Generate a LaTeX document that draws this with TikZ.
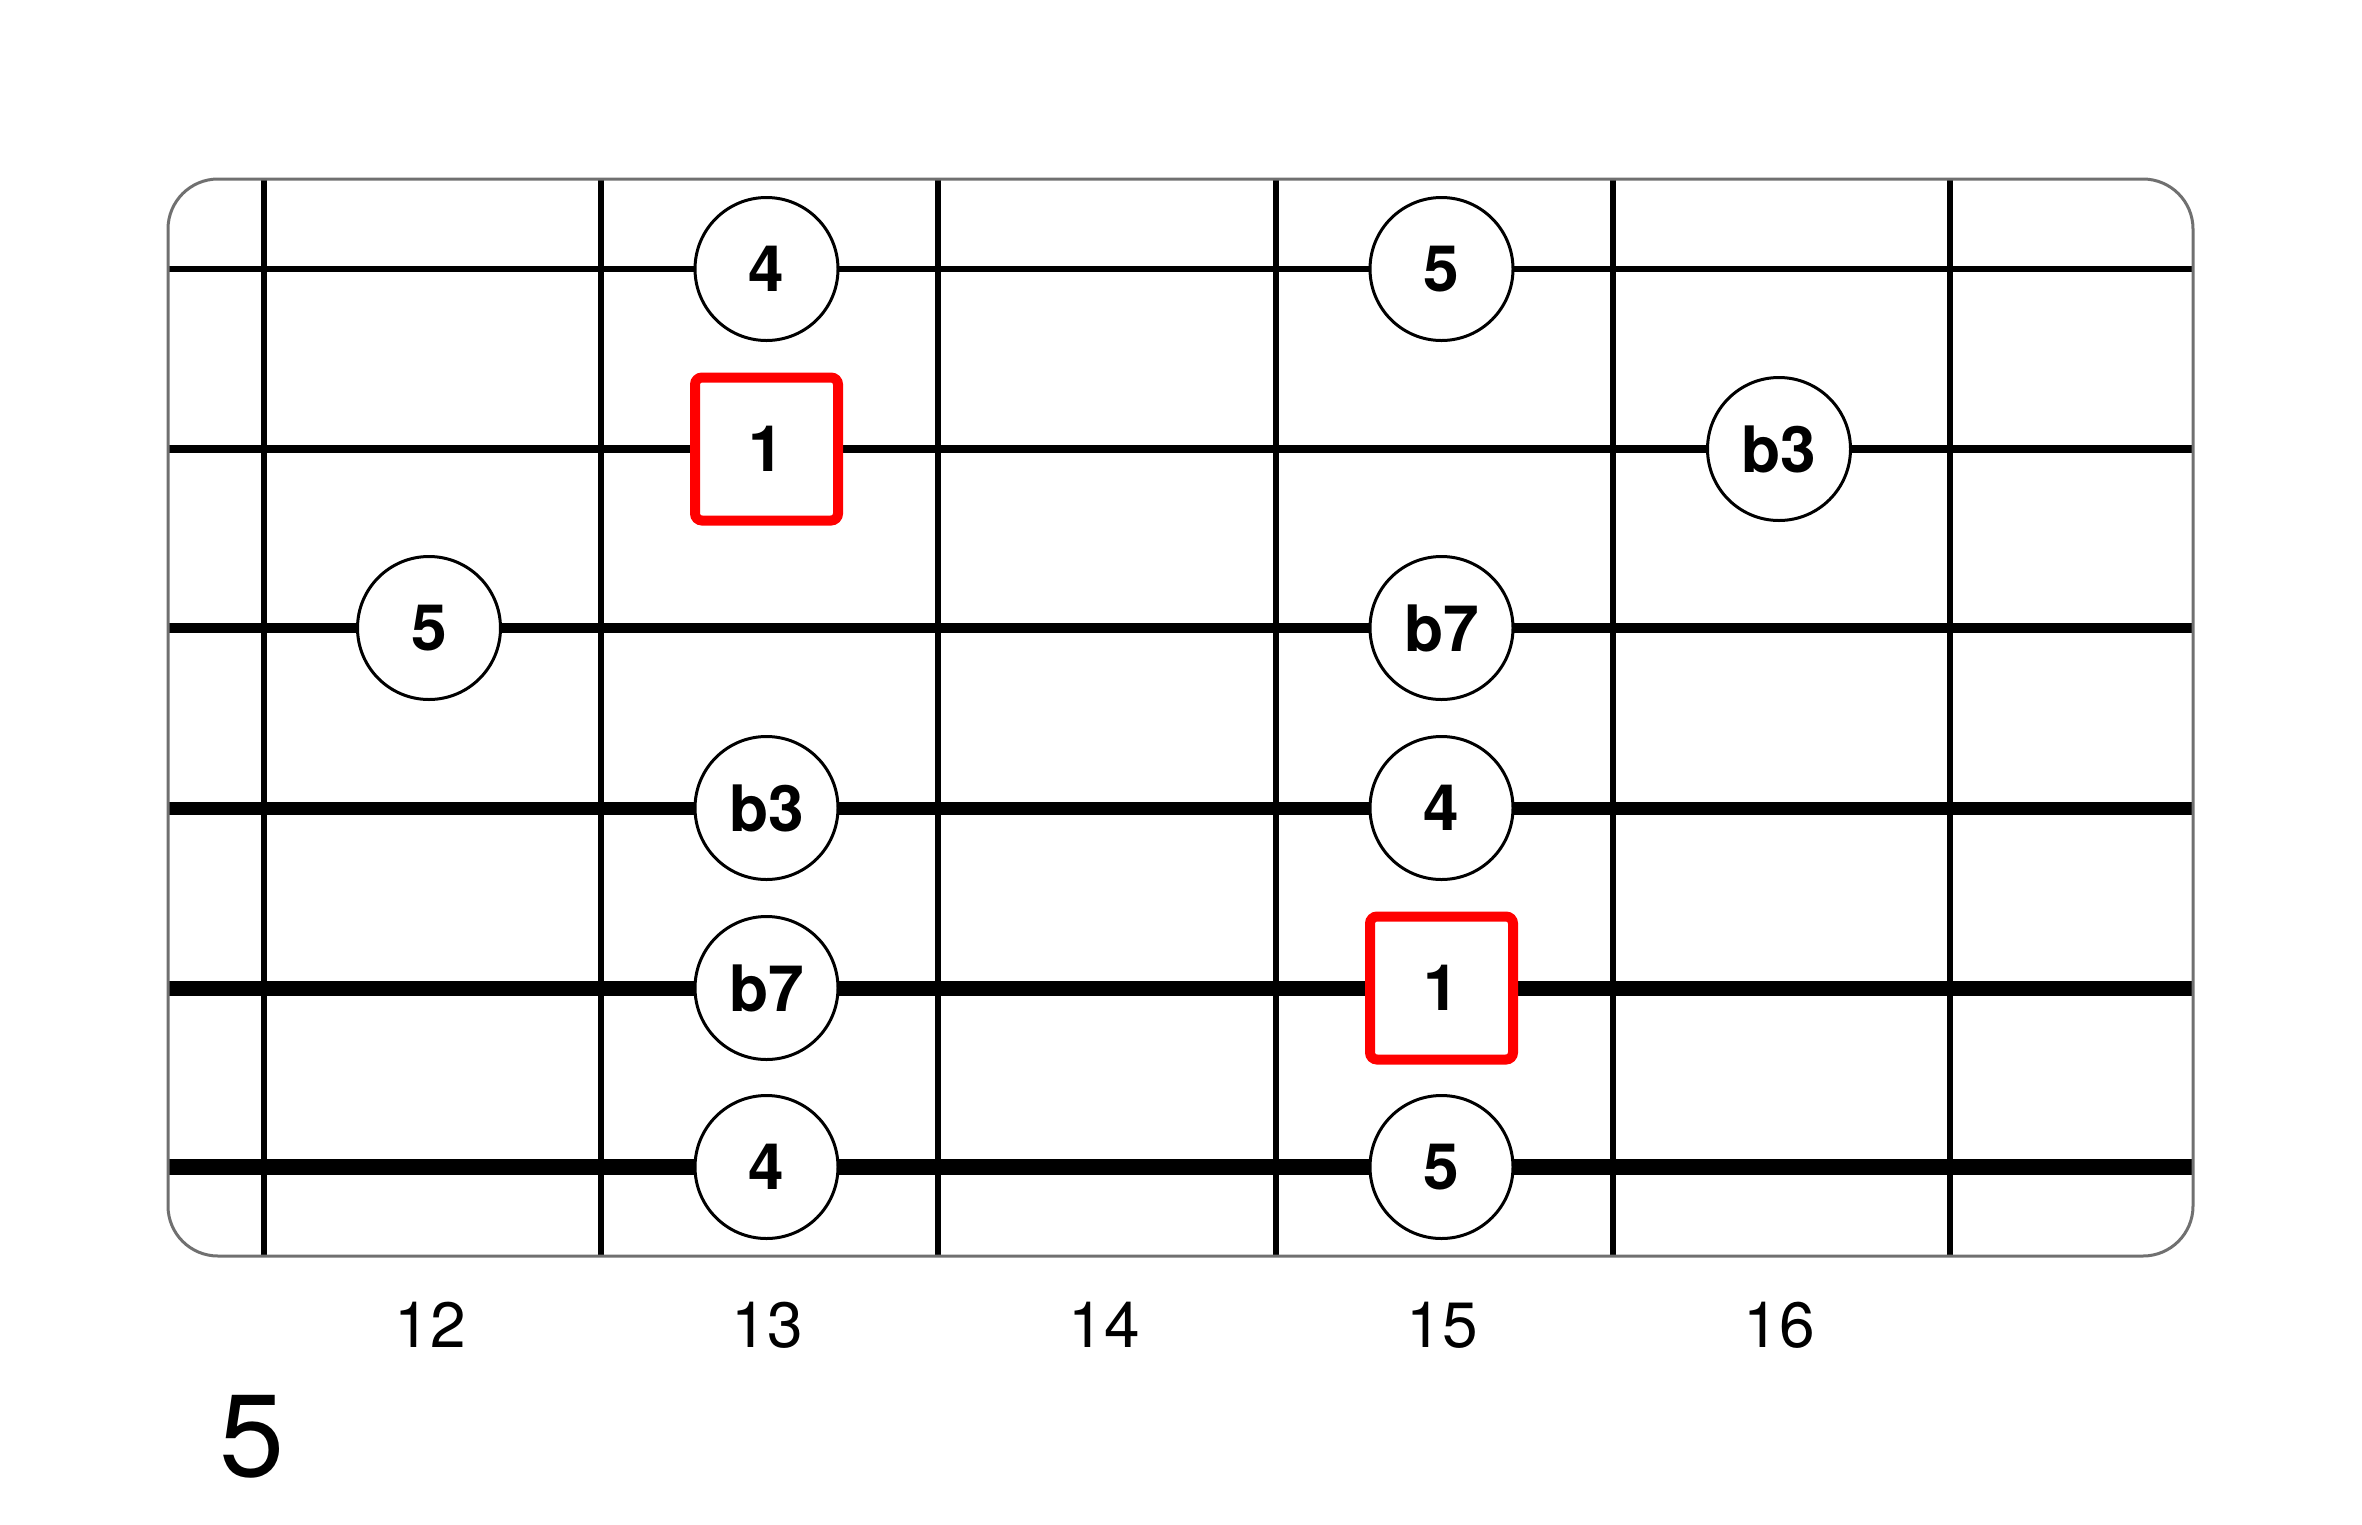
\documentclass[tikz,border=0pt]{standalone}
\usepackage{fontspec}
\setmainfont{TeX Gyre Heros}
\begin{document}
\begin{tikzpicture}[x=1pt,y=-1pt,
  note/.style={circle,draw=black,line width=3pt,fill=white,minimum size=143pt,inner sep=0pt,
    font=\fontsize{64}{64}\selectfont\bfseries},
  root/.style={rectangle,rounded corners=7pt,draw=red,line width=10pt,fill=white,minimum size=143pt,inner sep=0pt,
    font=\fontsize{64}{64}\selectfont\bfseries},
  fretnum/.style={inner sep=0pt,font=\fontsize{64}{64}\selectfont},
  fretwire/.style={line width=6pt,black},
  frame/.style={line width=3pt,draw={rgb,255:red,112;green,112;blue,112}}]
\useasboundingbox (0,0) rectangle (2362,1524);
% frets
\foreach \i/\x in {1/264,2/601,3/938,4/1276,5/1613,6/1950}{
  \coordinate (ft\i) at (\x,179);
  \coordinate (fb\i) at (\x,1256);
  \draw[fretwire] (ft\i) -- (fb\i);
}
% strings
\foreach \s/\y/\w in {1/269/5.5,2/449/7.5,3/628/10,4/808/13,5/988/15,6/1167/16.5}{
  \coordinate (sl\s) at (168,\y);
  \coordinate (sr\s) at (2193,\y);
  \draw[line width=\w pt,black] (sl\s) -- (sr\s);
}
% frame
\draw[frame,rounded corners=50pt] (168,179) rectangle (2193,1256);
% notes
\node[note] (a1) at (766.5,269) {4};
\node[note] (a2) at (1441.5,269) {5};
\node[root] (b1) at (766.5,449) {1};
\node[note] (b2) at (1779,449) {b3};
\node[note] (c1) at (429,628) {5};
\node[note] (c2) at (1441.5,628) {b7};
\node[note] (d1) at (766.5,808) {b3};
\node[note] (d2) at (1441.5,808) {4};
\node[note] (e1) at (766.5,988) {b7};
\node[root] (e2) at (1441.5,988) {1};
\node[note] (f1) at (766.5,1167) {4};
\node[note] (f2) at (1441.5,1167) {5};
% fret numbers
\node[fretnum] (n12) at (430,1325) {12};
\node[fretnum] (n13) at (767,1325) {13};
\node[fretnum] (n14) at (1104,1325) {14};
\node[fretnum] (n15) at (1442,1325) {15};
\node[fretnum] (n16) at (1779,1325) {16};
% position label
\node[inner sep=0pt,font=\fontsize{117}{117}\selectfont] (pos) at (252,1437) {5};
\end{tikzpicture}
\end{document}
